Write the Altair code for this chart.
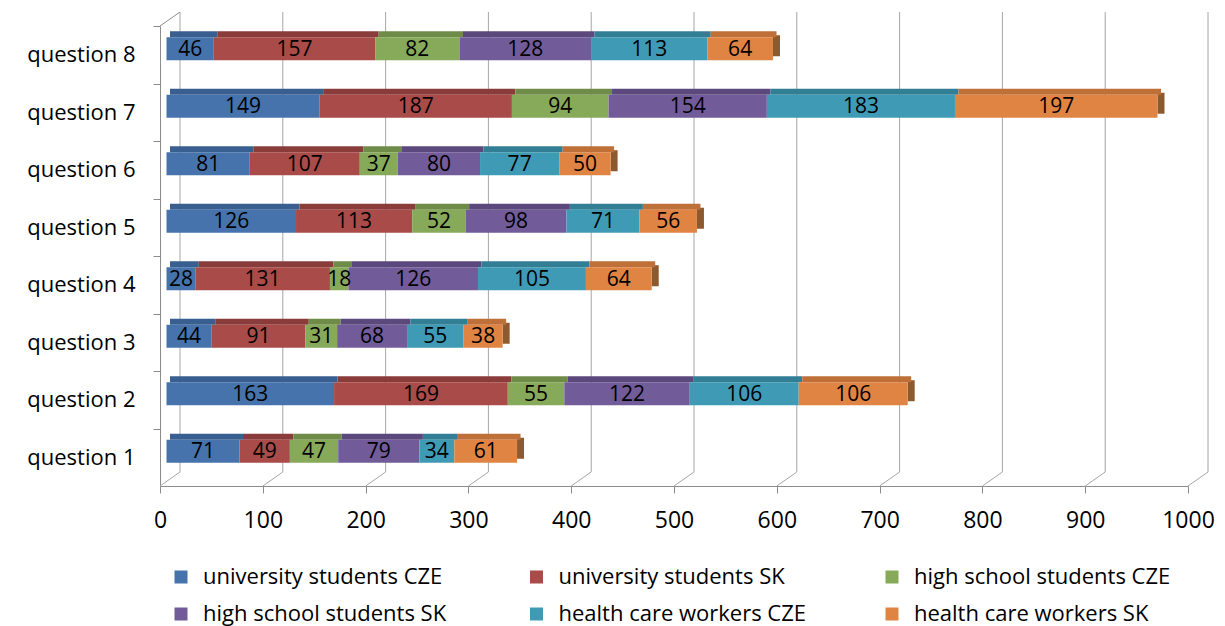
import altair as alt
import pandas as pd

# Categories and series
questions = [f"question {i}" for i in range(1, 9)]
series = [
    "university students CZE",
    "university students SK",
    "high school students CZE",
    "high school students SK",
    "health care workers CZE",
    "health care workers SK",
]

# Answers per group, question 1 .. question 8
uni_cze = [71, 163, 44, 28, 126, 81, 149, 46]
uni_sk = [49, 169, 91, 131, 113, 107, 187, 157]
hs_cze = [47, 55, 31, 18, 52, 37, 94, 82]
hs_sk = [79, 122, 68, 126, 98, 80, 154, 128]
hc_cze = [34, 106, 55, 105, 71, 77, 183, 113]
hc_sk = [61, 106, 38, 64, 56, 50, 197, 64]
series_values = [uni_cze, uni_sk, hs_cze, hs_sk, hc_cze, hc_sk]

tick_values = list(range(0, 1001, 100))

# Palette: front face, top face, end face
front_colors = ["#4673AC", "#A94B49", "#87A95A", "#715B98", "#3F9BB5", "#E08444"]
top_colors = ["#385F8F", "#8A3C3B", "#6E8B48", "#5B497D", "#317E95", "#BF6F38"]
side_color = "#8C5A2E"
grid_color = "#A6A6A6"
axis_color = "#8C8C8C"
FONT = "Open Sans"

rows = []
for idx, (name, vals) in enumerate(zip(series, series_values)):
    for q, v in zip(questions, vals):
        rows.append({"question": q, "series": name, "order": idx, "value": v})
df = pd.DataFrame(rows)
grid_df = pd.DataFrame({"t": tick_values})
corner_df = pd.DataFrame({"t": [0]})

W, H = 1028, 460
DEPTH_X, DEPTH_Y = 20, 14     # depth of the back wall
FACE_DX, FACE_DY = 6.5, -6    # front face of the bars sits mid-depth
BAR_H = 23
TOP_H = 6
END_W = 7

x_scale = alt.Scale(domain=[0, 1000], nice=False, zero=True)
x_axis = alt.Axis(
    values=tick_values, format="d", title=None, grid=False, tickSize=7, labelPadding=16,
    labelFontSize=23, labelFont=FONT, labelColor="#000000",
    domainColor=axis_color, tickColor=axis_color, labelFlush=False,
)
y_scale = alt.Scale(paddingInner=0, paddingOuter=0)
y_axis = alt.Axis(
    title=None, tickSize=7, tickOffset=-H / 16, labelOffset=H / 16, labelPadding=18,
    labelFontSize=22, labelFont=FONT, labelColor="#000000",
    domainColor=axis_color, tickColor=axis_color,
)
y_enc = alt.Y("question:N", sort=questions[::-1], scale=y_scale, axis=y_axis)

base = alt.Chart(df)

# Back wall gridlines
back_grid = alt.Chart(grid_df).mark_rule(color=grid_color, strokeWidth=1, xOffset=DEPTH_X).encode(
    x=alt.X("t:Q", scale=x_scale, axis=x_axis),
    y=alt.value(-DEPTH_Y),
    y2=alt.value(H - DEPTH_Y),
)
# Floor diagonals
floor_grid = alt.Chart(grid_df).mark_rule(color=grid_color, strokeWidth=1, x2Offset=DEPTH_X).encode(
    x=alt.X("t:Q", scale=x_scale, axis=x_axis),
    x2=alt.X2("t"),
    y=alt.value(H),
    y2=alt.value(H - DEPTH_Y),
)
# Top edge of the side wall
corner = alt.Chart(corner_df).mark_rule(color=axis_color, strokeWidth=1, x2Offset=DEPTH_X).encode(
    x=alt.X("t:Q", scale=x_scale, axis=x_axis),
    x2=alt.X2("t"),
    y=alt.value(0),
    y2=alt.value(-DEPTH_Y),
)

# End face of each stacked bar
side = base.transform_aggregate(
    total="sum(value)", groupby=["question"]
).mark_bar(
    color=side_color, size=BAR_H - 2,
    xOffset=FACE_DX, x2Offset=FACE_DX + END_W, yOffset=FACE_DY - 3,
).encode(
    x=alt.X("total:Q", scale=x_scale, axis=x_axis),
    x2=alt.X2("total"),
    y=y_enc,
)

# Top faces
tops = base.mark_bar(
    size=TOP_H, xOffset=FACE_DX + 3.5, x2Offset=FACE_DX + 3.5,
    yOffset=FACE_DY - BAR_H / 2 - TOP_H / 2,
).encode(
    x=alt.X("value:Q", stack="zero", scale=x_scale, axis=x_axis),
    y=y_enc,
    color=alt.Color("series:N", scale=alt.Scale(domain=series, range=top_colors), legend=None),
    order=alt.Order("order:Q"),
)

# Front faces
fronts = base.mark_bar(
    size=BAR_H, xOffset=FACE_DX, x2Offset=FACE_DX, yOffset=FACE_DY,
).encode(
    x=alt.X("value:Q", stack="zero", scale=x_scale, axis=x_axis),
    y=y_enc,
    color=alt.Color(
        "series:N",
        scale=alt.Scale(domain=series, range=front_colors),
        legend=alt.Legend(
            title=None, orient="none", legendX=10, legendY=540, columns=3,
            direction="horizontal", gridAlign="all", columnPadding=65.5, rowPadding=15,
            symbolType="square", symbolSize=169, symbolStrokeWidth=0, symbolOpacity=1,
            labelFont=FONT, labelFontSize=22, labelColor="#000000", labelOffset=11,
            labelLimit=400,
        ),
    ),
    order=alt.Order("order:Q"),
)

# Value labels centred on each segment
labels = base.transform_stack(
    stack="value", groupby=["question"], as_=["v0", "v1"],
    sort=[alt.SortField("order", order="ascending")],
).transform_calculate(
    mid="(datum.v0 + datum.v1) / 2"
).mark_text(
    font=FONT, fontSize=21, color="#000000", baseline="middle", align="center",
    xOffset=FACE_DX, yOffset=FACE_DY + 1,
).encode(
    x=alt.X("mid:Q", scale=x_scale, axis=x_axis),
    y=y_enc,
    text=alt.Text("value:Q"),
)

chart = alt.layer(
    back_grid, floor_grid, corner, side, tops, fronts, labels
).resolve_scale(
    color="independent"
).properties(
    width=W, height=H,
    padding={"left": 160, "top": 26, "right": 37, "bottom": 140},
    autosize=alt.AutoSizeParams(type="none"),
    background="#ffffff",
).configure_view(stroke=None)

chart.save("out.html", embed_options={"renderer": "svg", "actions": False})
